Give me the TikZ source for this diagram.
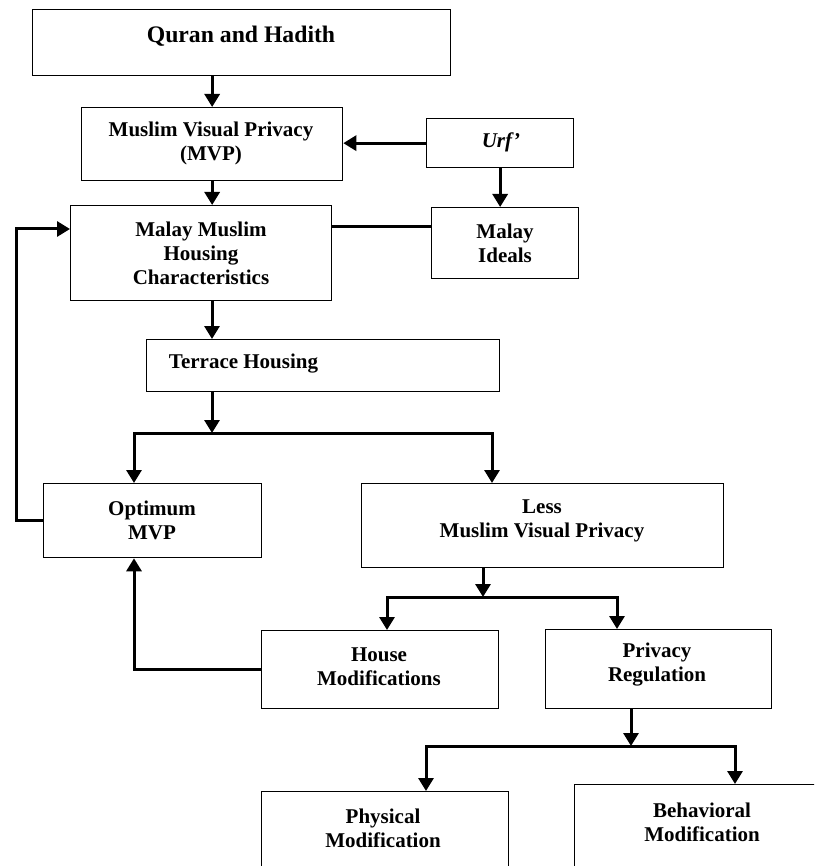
\documentclass[tikz,border=0pt]{standalone}
\usepackage{fontspec}
\setmainfont{Liberation Serif}
\usetikzlibrary{arrows.meta}
\tikzset{
  box/.style={draw, line width=1.3pt, inner sep=0pt, anchor=north west},
  lbl/.style={font=\fontsize{21}{24}\selectfont\bfseries, align=center, inner sep=0pt},
  conn/.style={line width=3pt},
  arr/.style={conn, -{Triangle[length=13pt,width=15pt]}},
  both/.style={conn, {Triangle[length=13pt,width=15pt]}-{Triangle[length=13pt,width=15pt]}},
}
\begin{document}
\begin{tikzpicture}[x=1pt, y=-1pt]
\useasboundingbox (0,0) rectangle (814,866);
\clip (0,0) rectangle (814,866);
% boxes
\node[box, minimum width=418pt, minimum height=66pt] (q) at (32,9) {};
\node[box, minimum width=261pt, minimum height=73pt] (mvp) at (81,107) {};
\node[box, minimum width=261pt, minimum height=95pt] (mmhc) at (70,205) {};
\node[box, minimum width=147pt, minimum height=49pt] (urf) at (426,118) {};
\node[box, minimum width=147pt, minimum height=71pt] (ideals) at (431,207) {};
\node[box, minimum width=353pt, minimum height=52pt] (terr) at (146,339) {};
\node[box, minimum width=218pt, minimum height=74pt] (opt) at (43,483) {};
\node[box, minimum width=362pt, minimum height=84pt] (less) at (361,483) {};
\node[box, minimum width=237pt, minimum height=78pt] (house) at (261,630) {};
\node[box, minimum width=226pt, minimum height=79pt] (priv) at (545,629) {};
\node[box, minimum width=247pt, minimum height=109pt] (phys) at (261,791) {};
\node[box, minimum width=266pt, minimum height=116pt] (behav) at (574,784) {};
% texts
\node[lbl, font=\fontsize{23.7}{26}\selectfont\bfseries, anchor=base] (tq) at (241,43) {Quran and Hadith};
\node[lbl] (tmvp) at (211,143) {Muslim Visual Privacy\\(MVP)};
\node[lbl] (tmmhc) at (201,253) {Malay Muslim\\Housing\\Characteristics};
\node[lbl, font=\fontsize{21}{24}\selectfont\bfseries\itshape] (turf) at (501,142) {Urf’};
\node[lbl] (tideals) at (505,243) {Malay\\Ideals};
\node[lbl] (tterr) at (243.5,364) {Terrace Housing};
\node[lbl] (topt) at (152,520) {Optimum\\MVP};
\node[lbl] (tless) at (542,521) {Less\\Muslim Visual Privacy};
\node[lbl] (thouse) at (379,667) {House\\Modifications};
\node[lbl] (tpriv) at (657,665) {Privacy\\Regulation};
\node[lbl] (tphys) at (383,828) {Physical\\Modification};
\node[lbl] (tbehav) at (702,822) {Behavioral\\Modification};
% helper coordinates
\coordinate (mi) at (0,227);
\coordinate (sp1) at (212,433);
\coordinate (sl) at (134,433);
\coordinate (sr) at (492,433);
\coordinate (fb) at (16,229);
\coordinate (sp2) at (483,597);
\coordinate (sp2l) at (387,597);
\coordinate (sp2r) at (617,597);
\coordinate (sp3) at (631,746);
\coordinate (sp3l) at (426,746);
\coordinate (sp3r) at (735,746);
% connectors
\draw[arr] (q.south -| mvp.north) -- (mvp.north);
\draw[arr] (urf.west) -- (urf.west -| mvp.east);
\draw[arr] (mvp.south) -- (mvp.south |- mmhc.north);
\draw[arr] (urf.south) -- (urf.south |- ideals.north);
\draw[conn] (mmhc.east |- mi) -- (ideals.west |- mi);
\draw[arr] (mmhc.south -| sp1) -- (terr.north -| sp1);
\draw[arr] (terr.south -| sp1) -- (sp1);
\draw[both] (opt.north -| sl) |- (sr) -- (less.north -| sr);
\draw[arr] (opt.west) -| (fb) -- (fb -| mmhc.west);
\draw[arr] (house.west) -| (sl |- opt.south);
\draw[arr] (less.south -| sp2) -- (sp2);
\draw[both] (house.north -| sp2l) |- (sp2r) -- (priv.north -| sp2r);
\draw[arr] (priv.south -| sp3) -- (sp3);
\draw[both] (phys.north -| sp3l) |- (sp3r) -- (behav.north -| sp3r);
\end{tikzpicture}
\end{document}
